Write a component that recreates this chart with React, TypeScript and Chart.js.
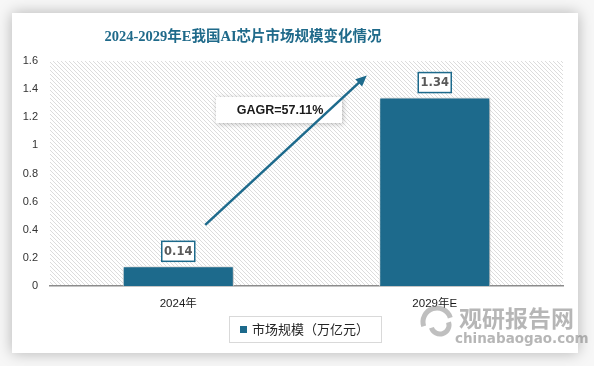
import React, { useEffect, useRef } from "react";
import { Chart, registerables } from "chart.js";

Chart.register(...registerables);

const categories = ["2024年", "2029年E"];
const seriesName = "市场规模（万亿元）";
const marketSize = [0.14, 1.34];
const titleText = "2024-2029年E我国AI芯片市场规模变化情况";
const cagrText = "GAGR=57.11%";
const yMin = 0;
const yMax = 1.6;
const yStep = 0.2;

const BAR = "#1d6a8c";

function makePattern(ctx: CanvasRenderingContext2D) {
  const c = document.createElement("canvas");
  c.width = 4;
  c.height = 4;
  const p = c.getContext("2d")!;
  p.fillStyle = "#ffffff";
  p.fillRect(0, 0, 4, 4);
  p.strokeStyle = "#dcdcdc";
  p.lineWidth = 1;
  p.beginPath();
  p.moveTo(-1, -1);
  p.lineTo(5, 5);
  p.moveTo(-1, 3);
  p.lineTo(1, 5);
  p.moveTo(3, -1);
  p.lineTo(5, 1);
  p.stroke();
  return ctx.createPattern(c, "repeat")!;
}

const decorPlugin = {
  id: "decor",
  beforeDraw(chart: any) {
    const ctx: CanvasRenderingContext2D = chart.ctx;
    const { left, right, top, bottom } = chart.chartArea;
    ctx.save();
    ctx.fillStyle = "#f7f7f7";
    ctx.fillRect(0, 0, chart.width, chart.height);
    ctx.shadowColor = "rgba(0,0,0,0.28)";
    ctx.shadowBlur = 14;
    ctx.fillStyle = "#ffffff";
    ctx.fillRect(12, 13, 566, 340);
    ctx.restore();

    ctx.save();
    ctx.fillStyle = "#1f6a8a";
    ctx.font = "bold 14.5px 'Liberation Serif', 'Noto Sans CJK SC', serif";
    ctx.textAlign = "center";
    ctx.textBaseline = "middle";
    ctx.fillText(titleText, 243, 37);
    ctx.restore();

    ctx.save();
    ctx.fillStyle = makePattern(ctx);
    ctx.fillRect(left, top, right - left, bottom - top);
    ctx.restore();
  },
  beforeDatasetsDraw(chart: any) {
    const ctx = chart.ctx;
    ctx.save();
    ctx.shadowColor = "rgba(0,0,0,0.35)";
    ctx.shadowBlur = 6;
    ctx.shadowOffsetX = 2;
    ctx.shadowOffsetY = 1;
  },
  afterDatasetsDraw(chart: any) {
    const ctx: CanvasRenderingContext2D = chart.ctx;
    ctx.restore();
    const meta = chart.getDatasetMeta(0);
    const yScale = chart.scales.y;
    const xScale = chart.scales.x;

    // data labels
    meta.data.forEach((bar: any, i: number) => {
      const txt = marketSize[i].toFixed(2);
      const w = 33;
      const h = 20;
      const x = bar.x - w / 2;
      const y = bar.y - 5 - h;
      ctx.save();
      ctx.fillStyle = "#ffffff";
      ctx.fillRect(x, y, w, h);
      ctx.strokeStyle = BAR;
      ctx.lineWidth = 1.5;
      ctx.strokeRect(x, y, w, h);
      ctx.fillStyle = "#595959";
      ctx.font = "bold 11.5px 'DejaVu Sans', sans-serif";
      ctx.textAlign = "center";
      ctx.textBaseline = "middle";
      ctx.fillText(txt, bar.x, y + h / 2 + 0.5);
      ctx.restore();
    });

    // CAGR box
    ctx.save();
    ctx.shadowColor = "rgba(0,0,0,0.25)";
    ctx.shadowBlur = 5;
    ctx.shadowOffsetX = 1;
    ctx.shadowOffsetY = 1;
    ctx.fillStyle = "#ffffff";
    ctx.fillRect(216, 97, 126, 26);
    ctx.restore();
    ctx.save();
    ctx.fillStyle = "#1a1a1a";
    ctx.font = "bold 12.5px 'Liberation Sans', sans-serif";
    ctx.textAlign = "center";
    ctx.textBaseline = "middle";
    ctx.fillText(cagrText, 280, 110.5);
    ctx.restore();

    // arrow from near first label to above second bar
    const x0 = xScale.getPixelForValue(0) + 27;
    const y0 = yScale.getPixelForValue(0.435);
    const x1 = xScale.getPixelForValue(1) - 68;
    const y1 = yScale.getPixelForValue(1.497);
    const ang = Math.atan2(y1 - y0, x1 - x0);
    ctx.save();
    ctx.strokeStyle = BAR;
    ctx.fillStyle = BAR;
    ctx.lineWidth = 2.5;
    ctx.beginPath();
    ctx.moveTo(x0, y0);
    ctx.lineTo(x1 - 8 * Math.cos(ang), y1 - 8 * Math.sin(ang));
    ctx.stroke();
    ctx.beginPath();
    ctx.moveTo(x1, y1);
    ctx.lineTo(x1 - 11 * Math.cos(ang) + 5 * Math.sin(ang), y1 - 11 * Math.sin(ang) - 5 * Math.cos(ang));
    ctx.lineTo(x1 - 11 * Math.cos(ang) - 5 * Math.sin(ang), y1 - 11 * Math.sin(ang) + 5 * Math.cos(ang));
    ctx.closePath();
    ctx.fill();
    ctx.restore();

    // legend
    ctx.save();
    ctx.strokeStyle = "#d9d9d9";
    ctx.lineWidth = 1;
    ctx.strokeRect(229.5, 316.5, 152, 26);
    ctx.fillStyle = BAR;
    ctx.fillRect(240, 326, 7, 7);
    ctx.fillStyle = "#262626";
    ctx.font = "13px 'Noto Sans CJK SC', sans-serif";
    ctx.textAlign = "left";
    ctx.textBaseline = "middle";
    ctx.fillText(seriesName, 252, 329.5);
    ctx.restore();

    // watermark
    ctx.save();
    ctx.globalAlpha = 0.55;
    ctx.strokeStyle = "#8a8a8a";
    ctx.lineWidth = 5;
    ctx.beginPath();
    ctx.arc(437, 322, 14, Math.PI * 0.9, Math.PI * 1.9);
    ctx.stroke();
    ctx.beginPath();
    ctx.arc(440, 325, 9, Math.PI * -0.1, Math.PI * 0.9);
    ctx.stroke();
    ctx.fillStyle = "#7a7a7a";
    ctx.font = "bold 23px 'Noto Sans CJK SC', sans-serif";
    ctx.textAlign = "left";
    ctx.textBaseline = "middle";
    ctx.fillText("观研报告网", 459, 318);
    ctx.font = "bold 13.5px 'DejaVu Sans', sans-serif";
    ctx.fillText("chinabaogao.com", 455, 339);
    ctx.restore();
  },
};

export default function App() {
  const ref = useRef<HTMLCanvasElement | null>(null);
  useEffect(() => {
    if (!ref.current) return;
    const chart = new Chart(ref.current, {
      type: "bar",
      data: {
        labels: categories,
        datasets: [
          {
            label: seriesName,
            data: marketSize,
            backgroundColor: BAR,
            borderColor: "#ffffff",
            borderWidth: 1,
            categoryPercentage: 1,
            barPercentage: 0.433,
          },
        ],
      },
      options: {
        animation: false,
        responsive: false,
        devicePixelRatio: 1,
        layout: { padding: { top: 61, right: 31, left: 0, bottom: 0 } },
        plugins: {
          legend: { display: false },
          title: { display: false },
          tooltip: { enabled: false },
        },
        scales: {
          x: {
            grid: { display: false, drawTicks: false },
            border: { display: true, color: "#8c8c8c", width: 1.5 },
            ticks: {
              padding: 11,
              color: "#1a1a1a",
              font: { size: 11.5, family: "'Liberation Sans', 'Noto Sans CJK SC', sans-serif" },
            },
            afterFit: (s: any) => {
              s.height = 80;
            },
          },
          y: {
            min: yMin,
            max: yMax,
            grid: { display: false, drawTicks: false },
            border: { display: false },
            ticks: {
              stepSize: yStep,
              padding: 12,
              color: "#333333",
              font: { size: 11, family: "'Liberation Sans', sans-serif" },
              callback: (v: any) => String(Number(Number(v).toFixed(1))),
            },
            afterFit: (s: any) => {
              s.width = 50;
            },
          },
        },
      },
      plugins: [decorPlugin],
    });
    return () => chart.destroy();
  }, []);
  return (
    <div style={{ position: "absolute", left: 0, top: 0, width: 594, height: 366 }}>
      <canvas ref={ref} width={594} height={366} style={{ width: 594, height: 366, display: "block" }} />
    </div>
  );
}
